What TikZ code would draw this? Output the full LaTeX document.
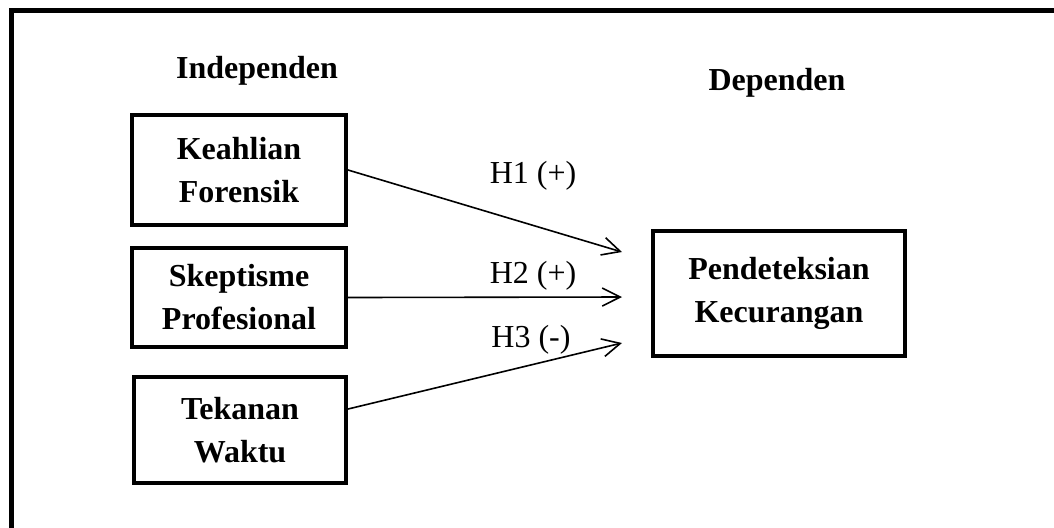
\documentclass[tikz,border=0pt]{standalone}
\usepackage{fontspec}
\setmainfont{Liberation Serif}
\usetikzlibrary{arrows.meta,positioning,calc}

\begin{document}
\begin{tikzpicture}[
  x=0.5pt, y=-0.5pt,
  >={Straight Barb[length=9pt,width=9pt]},
  font=\fontsize{16}{21.5}\selectfont,
  var/.style={draw, line width=2pt, align=center, inner sep=0pt,
              font=\fontsize{16}{21.5}\selectfont\bfseries},
  hyp/.style={->, line width=0.8pt},
  head/.style={anchor=base, font=\fontsize{16}{19}\selectfont\bfseries},
  hlbl/.style={anchor=base, font=\fontsize{16}{19}\selectfont}
]

% ---- Frame ----
\useasboundingbox (0,0) rectangle (1054,527);
\clip (0,0) rectangle (1054,527);
\draw[line width=2.5pt] (11.5,10) rectangle (1070,545);

% ---- Headers ----
\node[head] (indep) at (257,78) {Independen};
\node[head] (dep) at (777,90) {Dependen};

% ---- Variables ----
\node[var, minimum width=107pt, minimum height=55pt] (kf) at (239,170)
  {Keahlian\\Forensik};
\node[var, minimum width=107pt, minimum height=49.5pt] (sp) at (239,297.5)
  {Skeptisme\\Profesional};
\node[var, minimum width=106pt, minimum height=53pt] (tw) at (240,430)
  {Tekanan\\Waktu};
\node[var, minimum width=126pt, minimum height=62.5pt] (pk) at (779,293.5)
  {Pendeteksian\\Kecurangan};

% ---- Hypotheses ----
\coordinate (e1) at (622,252);
\coordinate (e2) at (622,297);
\coordinate (e3) at (622,343);

\draw[hyp] (kf.east) -- (e1);
\draw[hyp] (sp.east) -- (e2);
\draw[hyp] (tw.11) -- (e3);

\node[hlbl] (h1) at (533,183) {H1 (+)};
\node[hlbl] (h2) at (533,283) {H2 (+)};
\node[hlbl] (h3) at (531,347) {H3 (-)};

\end{tikzpicture}
\end{document}
